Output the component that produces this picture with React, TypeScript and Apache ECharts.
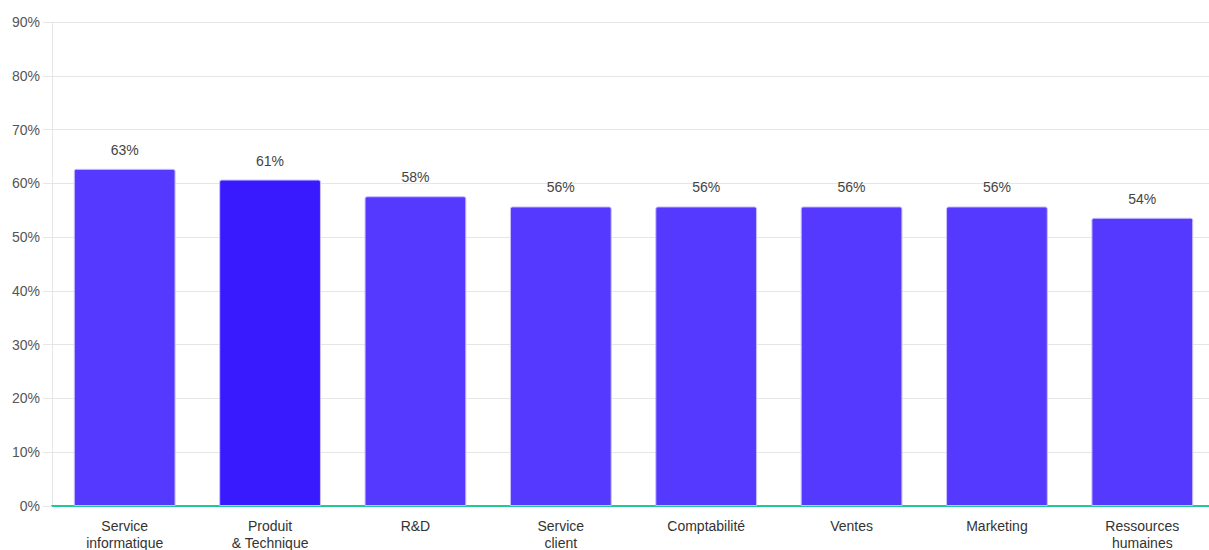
import React, { useEffect, useRef } from "react";
import * as echarts from "echarts";

const categories = [
  "Service\ninformatique",
  "Produit\n& Technique",
  "R&D",
  "Service\nclient",
  "Comptabilité",
  "Ventes",
  "Marketing",
  "Ressources\nhumaines",
];
const values = [62.7, 60.7, 57.6, 55.7, 55.7, 55.7, 55.7, 53.6];
const highlightIndex = 1;
const yTicks = [0, 10, 20, 30, 40, 50, 60, 70, 80, 90];

export default function App() {
  const ref = useRef<HTMLDivElement>(null);
  useEffect(() => {
    document.documentElement.style.overflow = "hidden";
    document.body.style.margin = "0";
    document.body.style.overflow = "hidden";
    const chart = echarts.init(ref.current!, undefined, { renderer: "svg" });
    const font = "Liberation Sans, Arial, Helvetica, sans-serif";
    chart.setOption({
      animation: false,
      grid: { left: 52, right: 0, top: 22, bottom: 64 },
      xAxis: {
        type: "category",
        data: categories,
        axisLine: { show: true, lineStyle: { color: "#21c997", width: 2 } },
        axisTick: { show: false },
        axisLabel: {
          color: "#333",
          fontSize: 14,
          fontFamily: font,
          lineHeight: 17,
          margin: 11,
          interval: 0,
        },
      },
      yAxis: {
        type: "value",
        min: yTicks[0],
        max: yTicks[yTicks.length - 1],
        interval: 10,
        axisLine: { show: true, lineStyle: { color: "#e6e6e6" } },
        axisTick: { show: true, length: 9, lineStyle: { color: "#e6e6e6" } },
        splitLine: { lineStyle: { color: "#e6e6e6" } },
        axisLabel: {
          color: "#555",
          fontSize: 14,
          fontFamily: font,
          margin: 12,
          formatter: (v: number) => v + "%",
        },
      },
      series: [
        {
          type: "bar",
          barCategoryGap: "30%",
          data: values.map((v, i) => ({
            value: v,
            itemStyle: {
              color: i === highlightIndex ? "#391aff" : "#5539ff",
            },
          })),
          itemStyle: {
            borderRadius: [2, 2, 0, 0],
            borderColor: "#c9c0ff",
            borderWidth: 1,
          },
          label: {
            show: true,
            position: "top",
            distance: 12,
            color: "#444",
            fontSize: 14,
            fontFamily: font,
            formatter: (p: any) => Math.round(p.value) + "%",
          },
        },
      ],
    });
    return () => chart.dispose();
  }, []);
  return <div ref={ref} style={{ width: 1215, height: 570 }} />;
}
